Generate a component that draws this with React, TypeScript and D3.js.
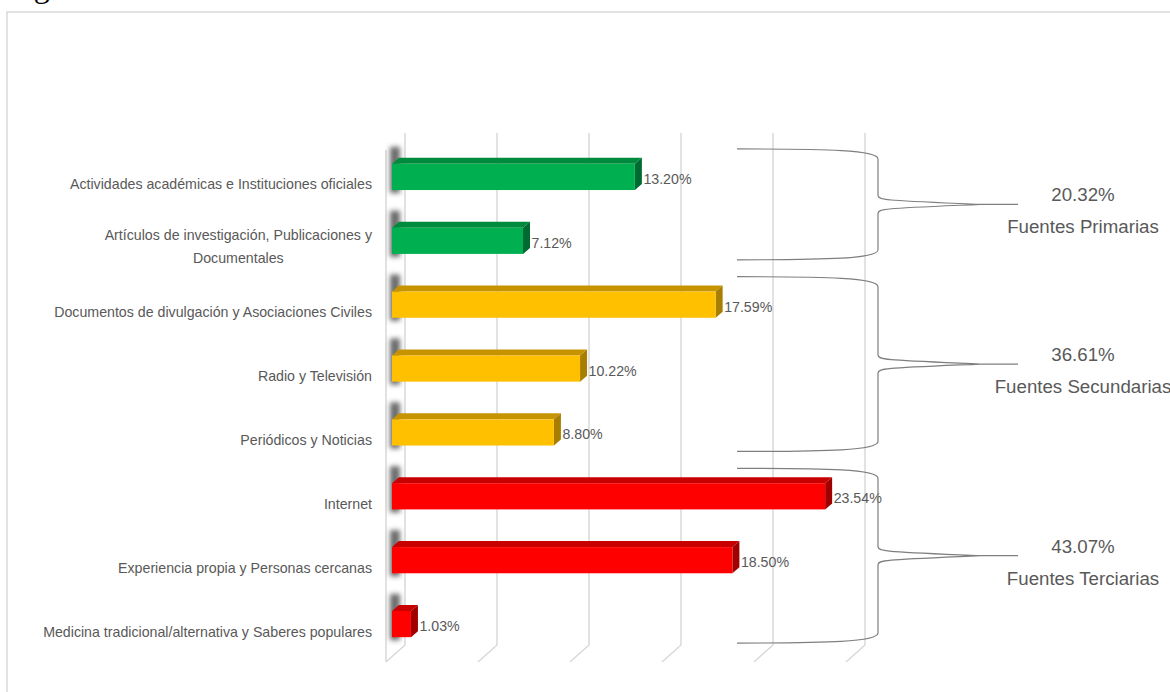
import React, { useLayoutEffect, useRef, useState } from "react";
import * as d3 from "d3";

const categories = [
  "Actividades académicas e Instituciones oficiales",
  "Artículos de investigación, Publicaciones y|Documentales",
  "Documentos de divulgación y Asociaciones Civiles",
  "Radio y Televisión",
  "Periódicos y Noticias",
  "Internet",
  "Experiencia propia y Personas cercanas",
  "Medicina tradicional/alternativa y Saberes populares",
];
const values = [13.2, 7.12, 17.59, 10.22, 8.8, 23.54, 18.5, 1.03];
const categoryGroup = [0, 0, 1, 1, 1, 2, 2, 2];
const groupNames = ["Fuentes Primarias", "Fuentes Secundarias", "Fuentes Terciarias"];
const groupTotals = [20.32, 36.61, 43.07];
const xTicks = [0, 5, 10, 15, 20, 25];

const FRONT = ["#00B050", "#FFC000", "#FF0000"];
const TOP = ["#008A3E", "#C59400", "#C80000"];
const SIDE = ["#006B30", "#A87E00", "#A00000"];

const W = 1170;
const H = 692;
const TEXT = "#595959";
const FONT = "'Liberation Sans', Arial, sans-serif";

export default function App() {
  const x = d3.scaleLinear().domain([0, 25]).range([405, 865]);
  const y = d3
    .scaleBand<number>()
    .domain(d3.range(categories.length))
    .range([145, 656])
    .paddingInner(0.59)
    .paddingOuter(0.295);
  const barH = y.bandwidth();
  const cy = (i: number) => (y(i) as number) + barH / 2;
  const frontOff = 13; // front plane offset from back wall
  const dx = 7;
  const dy = -6;
  const gridTop = 133;
  const gridBottom = 645;
  const floorDx = -19;
  const floorDy = 17;
  const labelRight = 372;

  const line1Ref = useRef<SVGTextElement | null>(null);
  const [line2X, setLine2X] = useState(labelRight - 134);
  useLayoutEffect(() => {
    if (line1Ref.current) {
      const w = line1Ref.current.getComputedTextLength();
      setLine2X(labelRight - w / 2);
    }
  }, []);

  // bracket geometry derived from the category bands of each group
  const brackets = groupNames.map((name, g) => {
    const idx = categoryGroup.map((c, i) => (c === g ? i : -1)).filter((i) => i >= 0);
    const top = cy(idx[0]) - 28;
    const bot = cy(idx[idx.length - 1]) + 19;
    const mid = (top + bot) / 2;
    return { name, total: groupTotals[g], top, bot, mid };
  });
  const bx0 = 737;
  const bxv = 878;
  const bxt = 1018;
  const bracketPath = (top: number, mid: number, bot: number) => {
    const up = `M${bx0},${top} C${bx0 + 90},${top} ${bxv},${top + 1} ${bxv},${top + 10} L${bxv},${mid - 9} C${bxv},${mid - 4} ${bxv + 10},${mid - 4} ${bxt - 38},${mid}`;
    const lo = `M${bx0},${bot} C${bx0 + 90},${bot} ${bxv},${bot - 1} ${bxv},${bot - 10} L${bxv},${mid + 9} C${bxv},${mid + 4} ${bxv + 10},${mid + 4} ${bxt - 38},${mid}`;
    return `${up} ${lo} M${bxt - 38},${mid} L${bxt},${mid}`;
  };

  return (
    <svg
      width={W}
      height={H}
      style={{ position: "absolute", left: 0, top: 0, background: "#fff" }}
    >
      <defs>
        <filter id="blur" x="-100%" y="-50%" width="300%" height="200%">
          <feGaussianBlur stdDeviation="2.6" />
        </filter>
      </defs>
      <text x={7} y={-3} fontFamily="'Liberation Serif', 'Times New Roman', serif" fontSize={32} fill="#000">
        Figura
      </text>
      <rect x={7} y={12} width={1200} height={700} fill="none" stroke="#D9D9D9" strokeWidth={1.5} />

      {/* side wall front edge */}
      <line x1={386} y1={150} x2={386} y2={gridBottom + floorDy} stroke="#D9D9D9" strokeWidth={1.5} />
      {/* gridlines */}
      {xTicks.map((t) => (
        <g key={t}>
          <line x1={x(t)} y1={gridTop} x2={x(t)} y2={gridBottom} stroke="#D9D9D9" strokeWidth={1.5} />
          <line
            x1={x(t)}
            y1={gridBottom}
            x2={x(t) + floorDx}
            y2={gridBottom + floorDy}
            stroke="#D9D9D9"
            strokeWidth={1.5}
          />
        </g>
      ))}

      {/* shadows on side wall */}
      {values.map((v, i) => (
        <rect
          key={"s" + i}
          x={390}
          y={(y(i) as number) - 17}
          width={10}
          height={barH + 20}
          fill="#3a3a3a"
          opacity={0.75}
          filter="url(#blur)"
        />
      ))}

      {/* bars */}
      {values.map((v, i) => {
        const g = categoryGroup[i];
        const x0 = x(0) - frontOff;
        const x1 = x(v) - frontOff;
        const y0 = y(i) as number;
        const y1 = y0 + barH;
        return (
          <g key={"b" + i}>
            <polygon
              points={`${x0},${y0} ${x0 + dx},${y0 + dy} ${x1 + dx},${y0 + dy} ${x1},${y0}`}
              fill={TOP[g]}
            />
            <polygon
              points={`${x1},${y0} ${x1 + dx},${y0 + dy} ${x1 + dx},${y1 + dy} ${x1},${y1}`}
              fill={SIDE[g]}
            />
            <rect x={x0} y={y0} width={x1 - x0} height={barH} fill={FRONT[g]} />
            <text
              x={x1 + dx + 1.5}
              y={cy(i) + 7}
              fontFamily={FONT}
              fontSize={14.2}
              fill={TEXT}
            >
              {v.toFixed(2) + "%"}
            </text>
          </g>
        );
      })}

      {/* category labels */}
      {categories.map((c, i) => {
        const parts = c.split("|");
        if (parts.length === 1) {
          return (
            <text
              key={"c" + i}
              x={labelRight}
              y={cy(i) + 12.5}
              textAnchor="end"
              fontFamily={FONT}
              fontSize={14.2}
              fill={TEXT}
            >
              {c}
            </text>
          );
        }
        return (
          <g key={"c" + i}>
            <text
              ref={line1Ref}
              x={labelRight}
              y={cy(i) - 1}
              textAnchor="end"
              fontFamily={FONT}
              fontSize={14.2}
              fill={TEXT}
            >
              {parts[0]}
            </text>
            <text
              x={line2X}
              y={cy(i) + 22}
              textAnchor="middle"
              fontFamily={FONT}
              fontSize={14.2}
              fill={TEXT}
            >
              {parts[1]}
            </text>
          </g>
        );
      })}

      {/* brackets */}
      {brackets.map((b, i) => (
        <g key={"br" + i}>
          <path d={bracketPath(b.top, b.mid, b.bot)} fill="none" stroke="#7F7F7F" strokeWidth={1.2} />
          <text
            x={1083}
            y={b.mid - 3}
            textAnchor="middle"
            fontFamily={FONT}
            fontSize={18.7}
            fill={TEXT}
          >
            {b.total.toFixed(2) + "%"}
          </text>
          <text
            x={1083}
            y={b.mid + 29}
            textAnchor="middle"
            fontFamily={FONT}
            fontSize={18.7}
            fill={TEXT}
          >
            {b.name}
          </text>
        </g>
      ))}
    </svg>
  );
}
